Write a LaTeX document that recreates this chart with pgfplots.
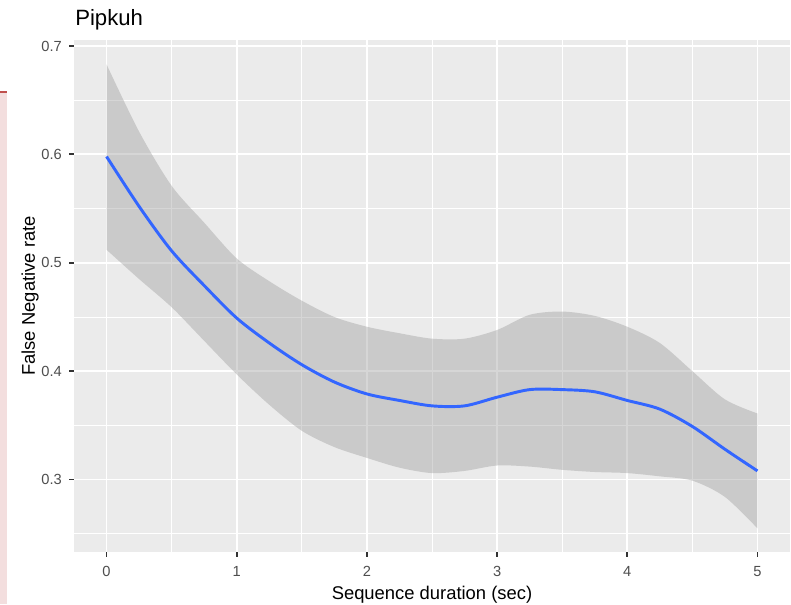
\documentclass[border=0pt]{standalone}
\usepackage{pgfplots}
\pgfplotsset{compat=1.18}
\usepackage{pgfplotstable}
\usepgfplotslibrary{fillbetween}
\usepackage{fontspec}
\setmainfont{Liberation Sans}
\definecolor{panelbg}{HTML}{EBEBEB}
\definecolor{ticklab}{HTML}{4D4D4D}
\definecolor{tickcol}{HTML}{333333}
\definecolor{ribbon}{HTML}{999999}
\definecolor{fitblue}{HTML}{3366FF}
\definecolor{stripfill}{HTML}{F3DEDE}
\definecolor{stripline}{HTML}{C0504D}

\pgfplotstableread{
x      lo     fit    hi
0.000  0.512  0.598  0.683
0.250  0.485  0.552  0.621
0.500  0.459  0.511  0.571
0.750  0.428  0.479  0.537
1.000  0.397  0.449  0.504
1.250  0.369  0.426  0.483
1.500  0.345  0.406  0.465
1.750  0.330  0.390  0.450
2.000  0.320  0.379  0.441
2.250  0.311  0.373  0.435
2.500  0.306  0.368  0.430
2.750  0.308  0.368  0.430
3.000  0.313  0.376  0.438
3.250  0.312  0.383  0.452
3.500  0.309  0.383  0.455
3.750  0.307  0.381  0.451
4.000  0.306  0.373  0.441
4.250  0.303  0.365  0.426
4.500  0.299  0.349  0.400
4.750  0.284  0.328  0.374
5.000  0.255  0.308  0.361
}\smoothdata

\begin{document}
\begin{tikzpicture}
\begin{axis}[
  at={(55.5pt,39pt)}, anchor=south west,
  scale only axis,
  width=537pt, height=384pt,
  xmin=-0.25, xmax=5.25,
  ymin=0.2332, ymax=0.7055,
  xtick={0,1,2,3,4,5},
  xticklabels={0,1,2,3,4,5},
  ytick={0.3,0.4,0.5,0.6,0.7},
  yticklabels={0.3,0.4,0.5,0.6,0.7},
  minor xtick={0.5,1.5,2.5,3.5,4.5},
  minor ytick={0.25,0.35,0.45,0.55,0.65},
  grid=both,
  major grid style={white, line width=1.33pt},
  minor grid style={white, line width=0.67pt},
  axis background/.style={fill=panelbg},
  axis line style={draw=none},
  tick pos=left,
  tick align=outside,
  major tick length=3.44pt,
  minor tick length=0pt,
  tick style={tickcol, line width=1.33pt},
  /pgf/number format/assume math mode=true,
  every tick label/.append style={font=\fontsize{11}{13}\selectfont, text=ticklab, inner sep=0pt},
  xticklabel style={font=\fontsize{11}{13}\selectfont, text=ticklab, inner sep=0pt, anchor=base, yshift=-15.3pt},
  yticklabel style={font=\fontsize{11}{13}\selectfont, text=ticklab, inner sep=0pt, anchor=east, xshift=-5.5pt},
  every axis title shift=0pt,
  title={Pipkuh},
  title style={at={(axis description cs:0.0014,1.0293)}, anchor=base west, font=\fontsize{16.6}{19}\selectfont, inner sep=0pt},
  xlabel={Sequence duration (sec)},
  xlabel style={at={(axis description cs:0.5,-0.0918)}, anchor=base, font=\fontsize{13.8}{16}\selectfont, inner sep=0pt},
  ylabel={False Negative rate},
  ylabel style={at={(axis description cs:-0.05447,0.5)}, anchor=base, font=\fontsize{13.8}{16}\selectfont, inner sep=0pt},
]
\addplot[name path=up, draw=none, smooth] table[x=x, y=hi]{\smoothdata};
\addplot[name path=dn, draw=none, smooth] table[x=x, y=lo]{\smoothdata};
\addplot[fill=ribbon, fill opacity=0.4, draw=none] fill between[of=up and dn];
\addplot[smooth, color=fitblue, line width=2.2pt] table[x=x, y=fit]{\smoothdata};
\end{axis}
\fill[stripfill] (0,0) rectangle (5.25pt,385pt);
\fill[stripline] (0,383.5pt) rectangle (5.25pt,385pt);
\path (0,0) rectangle (593.25pt,453pt);
\end{tikzpicture}
\end{document}
